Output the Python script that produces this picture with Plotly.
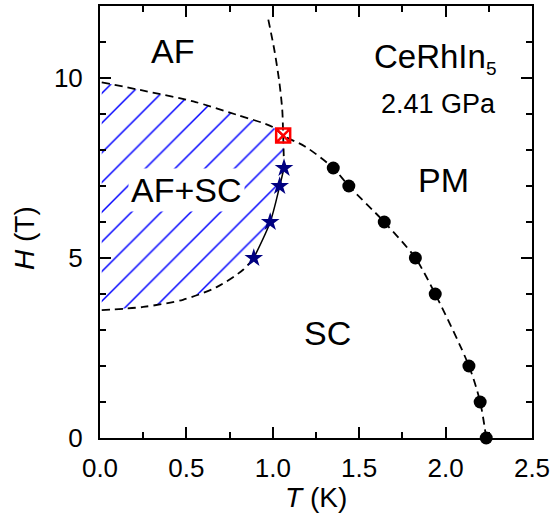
import plotly.graph_objects as go

FONT = "Liberation Sans, Arial, Helvetica, sans-serif"

# SC upper critical field (black circles)
T_sc = [1.35, 1.44, 1.645, 1.825, 1.94, 2.135, 2.20, 2.235]
H_sc = [7.5, 7.0, 6.0, 5.0, 4.0, 2.0, 1.0, 0.0]

# AF+SC boundary (stars)
T_star = [0.89, 0.985, 1.04, 1.065]
H_star = [5.0, 6.0, 7.0, 7.5]

# tetracritical point (red square)
T_tc = [1.06]
H_tc = [8.4]

# upper dashed boundary (AF / PM line continuing into Hc2)
T_upper = [0.01, 0.27, 0.54, 0.79, 1.0, 1.06, 1.186, 1.35, 1.44, 1.645, 1.825, 1.94, 2.135, 2.20, 2.235]
H_upper = [9.88, 9.63, 9.35, 8.98, 8.64, 8.4, 8.1, 7.5, 7.0, 6.0, 5.0, 4.0, 2.0, 1.0, 0.0]

# near-vertical dashed AF boundary
T_vert = [0.974, 1.01, 1.039, 1.055, 1.06, 1.063, 1.065]
H_vert = [11.62, 10.75, 9.84, 9.1, 8.4, 7.9, 7.5]

# lower dashed boundary of AF+SC
T_low = [0.01, 0.25, 0.48, 0.675, 0.83, 0.89]
H_low = [3.55, 3.64, 3.84, 4.19, 4.68, 5.0]

x_ticks = [0.0, 0.5, 1.0, 1.5, 2.0, 2.5]
y_ticks = [0, 5, 10]

fig = go.Figure()

# hatched AF+SC region built from the boundary arrays
poly_T = T_upper[:6] + T_vert[5:] + T_star[::-1][1:] + T_low[::-1][1:]
poly_H = H_upper[:6] + H_vert[5:] + H_star[::-1][1:] + H_low[::-1][1:]
fig.add_trace(go.Scatter(
    x=poly_T, y=poly_H, mode="lines", fill="toself",
    line=dict(width=0, color="rgba(0,0,0,0)"),
    fillcolor="white",
    fillpattern=dict(shape="/", fgcolor="#0000ff", fgopacity=1, bgcolor="white",
                     size=21, solidity=0.07),
    hoverinfo="skip"))

dash_line = dict(color="black", width=1.8, dash="8px,5px", shape="spline", smoothing=0.8)
fig.add_trace(go.Scatter(x=T_upper, y=H_upper, mode="lines", line=dash_line))
fig.add_trace(go.Scatter(x=T_vert, y=H_vert, mode="lines", line=dash_line))
fig.add_trace(go.Scatter(x=T_low, y=H_low, mode="lines", line=dash_line))
fig.add_trace(go.Scatter(x=T_star, y=H_star, mode="lines",
                         line=dict(color="black", width=1.5, shape="spline", smoothing=0.8)))

fig.add_trace(go.Scatter(x=T_sc, y=H_sc, mode="markers",
                         marker=dict(symbol="circle", size=13, color="black"),
                         cliponaxis=False))
fig.add_trace(go.Scatter(x=T_star, y=H_star, mode="markers",
                         marker=dict(symbol="star", size=14, color="#000080")))
fig.add_trace(go.Scatter(x=T_tc, y=H_tc, mode="markers",
                         marker=dict(symbol="square-x-open", size=14, color="red",
                                     line=dict(color="red", width=2.5))))

big = dict(family=FONT, size=34, color="black")
anns = [
    dict(x=0.417, y=10.74, text="AF", font=big),
    dict(x=0.502, y=6.9, text="AF+SC", font=big, bgcolor="white", borderpad=2),
    dict(x=1.987, y=7.16, text="PM", font=big),
    dict(x=1.315, y=2.92, text="SC", font=big),
    dict(x=1.574, y=10.55, text="CeRhIn<sub><span style='font-size:19px'>5</span></sub>",
         font=dict(family=FONT, size=33, color="black"), xanchor="left"),
    dict(x=1.956, y=9.29, text="2.41 GPa", font=dict(family=FONT, size=27, color="black")),
]
for a in anns:
    a.setdefault("xanchor", "center")
    a.update(xref="x", yref="y", yanchor="middle", showarrow=False)
fig.update_layout(annotations=anns)

fig.add_annotation(xref="paper", yref="paper", x=0.5, y=-0.138, text="<i>T</i> (K)",
                   showarrow=False, xanchor="center", yanchor="middle",
                   font=dict(family=FONT, size=28, color="black"))
fig.add_annotation(xref="paper", yref="paper", x=-0.1736, y=0.463, text="<i>H</i> (T)",
                   showarrow=False, xanchor="center", yanchor="middle", textangle=-90,
                   font=dict(family=FONT, size=28, color="black"))

axis_common = dict(showline=True, linewidth=2, linecolor="black", mirror="allticks",
                   ticks="inside", tickwidth=2, ticklen=11, tickcolor="black",
                   showgrid=False, zeroline=False, automargin=False,
                   tickfont=dict(family=FONT, size=26, color="black"))
fig.update_xaxes(range=[0, 2.5], tickvals=x_ticks,
                 ticktext=[f"{v:.1f}" for v in x_ticks],
                 minor=dict(dtick=0.25, ticks="inside", ticklen=6, tickwidth=2, tickcolor="black"),
                 ticklabelstandoff=6, **axis_common)
fig.update_yaxes(range=[0, 12], tickvals=y_ticks,
                 ticktext=[str(v) for v in y_ticks],
                 minor=dict(dtick=1, ticks="inside", ticklen=6, tickwidth=2, tickcolor="black"),
                 ticklabelstandoff=10, **axis_common)

fig.update_layout(width=552, height=514, showlegend=False,
                  margin=dict(l=100, r=20, t=6, b=76, autoexpand=False),
                  paper_bgcolor="white", plot_bgcolor="white",
                  font=dict(family=FONT))

fig.write_html("out.html", config={"displayModeBar": False},
               post_script="document.body.style.margin='0';")
